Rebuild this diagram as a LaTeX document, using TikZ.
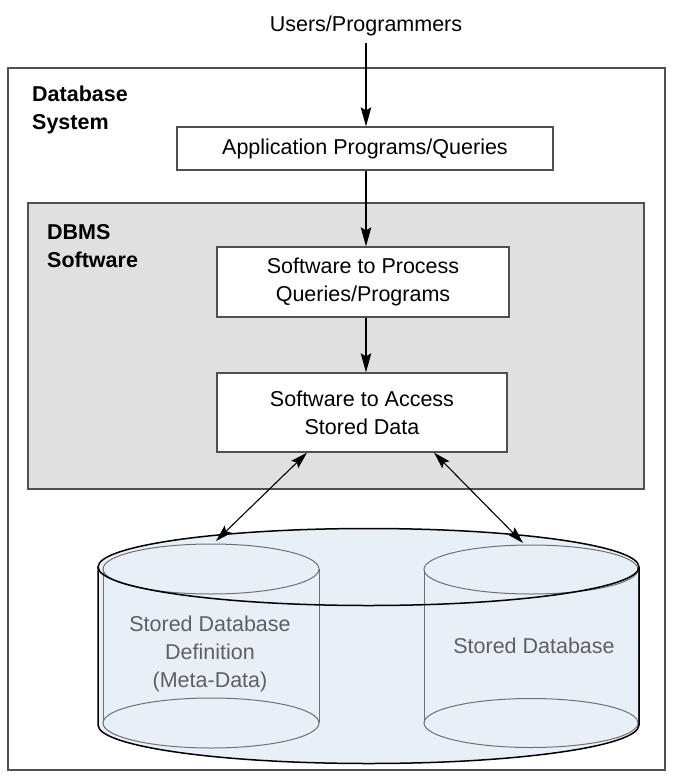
\documentclass[tikz,border=0pt]{standalone}
\usepackage{fontspec}
\setmainfont{Liberation Sans}
\usetikzlibrary{arrows.meta,calc}
\definecolor{grayfill}{HTML}{E0E0E0}
\definecolor{cylfill}{HTML}{E9EFF7}
\definecolor{edgegray}{HTML}{505050}
\definecolor{cylline}{HTML}{707070}
\definecolor{cyltext}{HTML}{606060}
\begin{document}
\begin{tikzpicture}[x=1pt,y=-1pt,
  every node/.style={font=\fontsize{21.5}{28}\selectfont},
  box/.style={draw=edgegray, line width=1.3pt, fill=white, inner sep=0pt, align=center},
  container/.style={draw=edgegray, line width=1.5pt, inner sep=0pt},
  lbl/.style={font=\fontsize{21.5}{28}\selectfont\bfseries, align=left, anchor=base west, inner sep=0pt},
  conn/.style={line width=1.3pt, -{Stealth[length=19pt,width=10.5pt,inset=3pt]}},
  biconn/.style={line width=1.1pt, {Stealth[length=17pt,width=10pt,inset=3pt]}-{Stealth[length=17pt,width=10pt,inset=3pt]}},
  smallcyl/.style={draw=cylline, line width=1pt},
  bigcyl/.style={draw=black, line width=1.5pt},
  cyltxt/.style={text=cyltext, align=center, inner sep=0pt}
]
\useasboundingbox (0,0) rectangle (676,782);

% outer system box
\node[container, minimum width=657pt, minimum height=702pt] (outer) at (336.5,419) {};
\node[lbl] (syslbl) at (32,129) {Database\\System};

% DBMS gray box
\node[container, fill=grayfill, minimum width=616pt, minimum height=286pt] (dbms) at (336,346) {};
\node[lbl] (dbmslbl) at (47,267) {DBMS\\Software};

% users
\node[inner sep=0pt, anchor=base] (users) at (366,31) {Users/Programmers};

% boxes
\node[box, minimum width=376pt, minimum height=43pt] (app) at (365,148.5) {Application Programs/Queries};
\node[box, minimum width=292pt, minimum height=70pt] (proc) at (363,282) {Software to Process\\Queries/Programs};
\node[box, minimum width=290pt, minimum height=79pt] (acc) at (362,412.5) {Software to Access\\Stored Data};

% connectors
\draw[conn] ([yshift=-7pt]users.south -| 366,0) -- (366,0 |- app.north);
\draw[conn] (366,0 |- app.south) -- (366,0 |- proc.north);
\draw[conn] (366,0 |- proc.south) -- (366,0 |- acc.north);

% big cylinder body fill
\fill[cylfill] (98,567) -- (98,725) arc[start angle=180,end angle=360,x radius=270.5pt,y radius=38.5pt]
  -- (639,567) arc[start angle=0,end angle=180,x radius=270.5pt,y radius=38.5pt] -- cycle;

% small cylinders
\draw[smallcyl] (211,569) ellipse[x radius=108pt, y radius=25pt];
\draw[smallcyl] (211,723) ellipse[x radius=108pt, y radius=25pt];
\draw[smallcyl] (103,569) -- (103,723);
\draw[smallcyl] (319,569) -- (319,723);
\draw[smallcyl] (531,569.5) ellipse[x radius=107pt, y radius=24.5pt];
\draw[smallcyl] (531,723) ellipse[x radius=107pt, y radius=24.5pt];
\draw[smallcyl] (424,569.5) -- (424,723);
\draw[smallcyl] (638,569.5) -- (638,723);

% big cylinder outline
\draw[bigcyl] (368.5,567) ellipse[x radius=270.5pt, y radius=38.5pt];
\draw[bigcyl] (98,567) -- (98,725) arc[start angle=180,end angle=360,x radius=270.5pt,y radius=38.5pt] -- (639,567);

% cylinder texts
\node[cyltxt] (metadef) at (210,654) {Stored Database\\Definition\\(Meta-Data)};
\node[cyltxt, anchor=base] (storeddb) at (534,653) {Stored Database};

% arrows to storage
\coordinate (dbl) at (216,541);
\coordinate (dbr) at (523,543);
\draw[biconn] ([xshift=-55pt]acc.south) -- (dbl);
\draw[biconn] ([xshift=72pt]acc.south) -- (dbr);
\end{tikzpicture}
\end{document}
